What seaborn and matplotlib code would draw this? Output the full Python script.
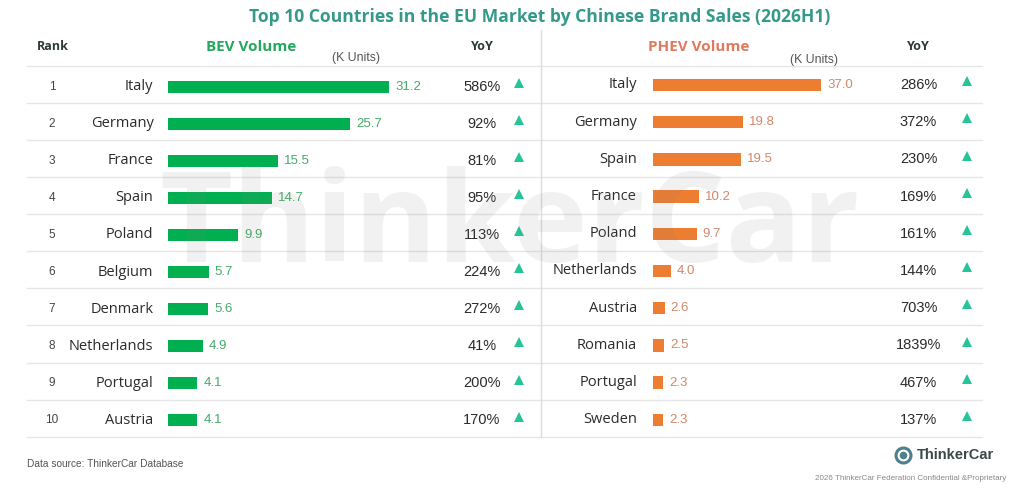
import numpy as np
import seaborn as sns
import pandas as pd
import matplotlib.pyplot as plt
import matplotlib.transforms as mtransforms
from matplotlib.lines import Line2D

# Data
ranks = [1, 2, 3, 4, 5, 6, 7, 8, 9, 10]
bev_countries = ['Italy', 'Germany', 'France', 'Spain', 'Poland', 'Belgium',
                 'Denmark', 'Netherlands', 'Portugal', 'Austria']
bev_volume = [31.2, 25.7, 15.5, 14.7, 9.9, 5.7, 5.6, 4.9, 4.1, 4.1]
bev_yoy = [586, 92, 81, 95, 113, 224, 272, 41, 200, 170]

phev_countries = ['Italy', 'Germany', 'Spain', 'France', 'Poland', 'Netherlands',
                  'Austria', 'Romania', 'Portugal', 'Sweden']
phev_volume = [37.0, 19.8, 19.5, 10.2, 9.7, 4.0, 2.6, 2.5, 2.3, 2.3]
phev_yoy = [286, 372, 230, 169, 161, 144, 703, 1839, 467, 137]

plt.rcParams['font.family'] = ['Open Sans', 'DejaVu Sans']

W, H = 1024, 495
fig = plt.figure(figsize=(10.24, 4.95), dpi=100)
fig.patch.set_facecolor('white')


def fx(px):
    return px / W


def fy(py):
    return 1 - py / H


def bar_axes(x0, px_per_unit, first_row, step, xmax=40):
    top = first_row - step / 2
    bot = first_row + 9 * step + step / 2
    return fig.add_axes([fx(x0), fy(bot), xmax * px_per_unit / W, (bot - top) / H])


green = '#00b050'
orange = '#ed7d31'
tri_color = '#27c497'
txt = '#2b2b2b'
num_font = ['Liberation Sans', 'DejaVu Sans']

# Title
fig.text(fx(540), fy(17), 'Top 10 Countries in the EU Market by Chinese Brand Sales (2026H1)',
         ha='center', va='center', fontsize=12.6, fontweight='bold', color='#35998a')

# Headers
fig.text(fx(53), fy(47), 'Rank', ha='center', va='center', fontsize=9,
         fontweight='bold', color='#2d3a3a')
fig.text(fx(251), fy(47), 'BEV Volume', ha='center', va='center', fontsize=11,
         fontweight='bold', color='#23a85e')
fig.text(fx(356), fy(58), '(K Units)', ha='center', va='center', fontsize=8.8,
         color='#555555', family=num_font)
fig.text(fx(482), fy(47), 'YoY', ha='center', va='center', fontsize=9,
         fontweight='bold', color='#2d3a3a')
fig.text(fx(699), fy(47), 'PHEV Volume', ha='center', va='center', fontsize=11,
         fontweight='bold', color='#e07a5f')
fig.text(fx(814), fy(60), '(K Units)', ha='center', va='center', fontsize=8.8,
         color='#555555', family=num_font)
fig.text(fx(918), fy(47), 'YoY', ha='center', va='center', fontsize=9,
         fontweight='bold', color='#2d3a3a')

# Grid lines
for k in range(11):
    y = fy(65.7 + 37.1 * k)
    fig.add_artist(Line2D([fx(27), fx(540)], [y, y], color='#e6e6e6', lw=1))
    fig.add_artist(Line2D([fx(542), fx(982)], [y, y], color='#e6e6e6', lw=1))
fig.add_artist(Line2D([fx(540.5), fx(540.5)], [fy(30), fy(437)], color='#dcdcdc', lw=1))


def draw_panel(countries, volume, yoy, x0, ppu, first_row, step, color, lab_color,
               name_x, yoy_x, tri_x, show_rank):
    ax = bar_axes(x0, ppu, first_row, step)
    df = pd.DataFrame({'country': countries, 'volume': volume})
    sns.barplot(data=df, x='volume', y='country', ax=ax, color=color,
                saturation=1, width=0.33, orient='h')
    ax.set_xlim(0, 40)
    ax.set_ylim(9.5, -0.5)
    ax.axis('off')
    tr = mtransforms.blended_transform_factory(fig.transFigure, ax.transData)
    off = mtransforms.offset_copy(ax.transData, fig=fig, x=6, units='dots')
    for i in range(len(countries)):
        if show_rank:
            ax.text(fx(52), i, str(ranks[i]), transform=tr, ha='center', va='center',
                    fontsize=8.5, color='#444444', family=num_font)
        ax.text(fx(name_x), i, countries[i], transform=tr, ha='right', va='center',
                fontsize=10.5, color=txt)
        ax.text(volume[i], i, f'{volume[i]:.1f}', transform=off, ha='left', va='center',
                fontsize=9.5, color=lab_color, family=num_font)
        ax.text(fx(yoy_x), i, f'{yoy[i]}%', transform=tr, ha='center', va='center',
                fontsize=10.5, color=txt, family=num_font)
    ax.plot([fx(tri_x)] * len(countries), [i - 0.1 for i in range(len(countries))],
            transform=tr, marker='^', ls='none', ms=7.2, mew=0,
            color=tri_color, clip_on=False)
    return ax


draw_panel(bev_countries, bev_volume, bev_yoy, 168.3, 7.08, 86.7, 37.07,
           green, '#45ab6a', 153.5, 482, 518.7, True)
draw_panel(phev_countries, phev_volume, phev_yoy, 652.7, 4.55, 85, 37.2,
           orange, '#d4876a', 637, 918.5, 967, False)

# Watermark
fig.text(fx(510), fy(262), 'ThinkerCar', ha='center', va='baseline', fontsize=91,
         fontweight='bold', color='#808080', alpha=0.11, zorder=20)

# Footer
fig.text(fx(27), fy(464), 'Data source: ThinkerCar Database', ha='left', va='center',
         fontsize=7.3, color='#555555', family=num_font)
fig.add_artist(Line2D([fx(903)], [fy(455)], marker='o', ms=13, mew=0, color='#4d8088'))
fig.add_artist(Line2D([fx(903)], [fy(455)], marker='o', ms=7, mew=1.5, mfc='none',
                      mec='white'))
fig.text(fx(917), fy(455), 'ThinkerCar', ha='left', va='center', fontsize=10.5,
         fontweight='bold', color='#3a4848', family=num_font)
fig.text(fx(1006), fy(478), '2026 ThinkerCar Federation Confidential &Proprietary',
         ha='right', va='center', fontsize=5.8, color='#888888', family=num_font)

fig.savefig('out.png', dpi=100, facecolor='white')
